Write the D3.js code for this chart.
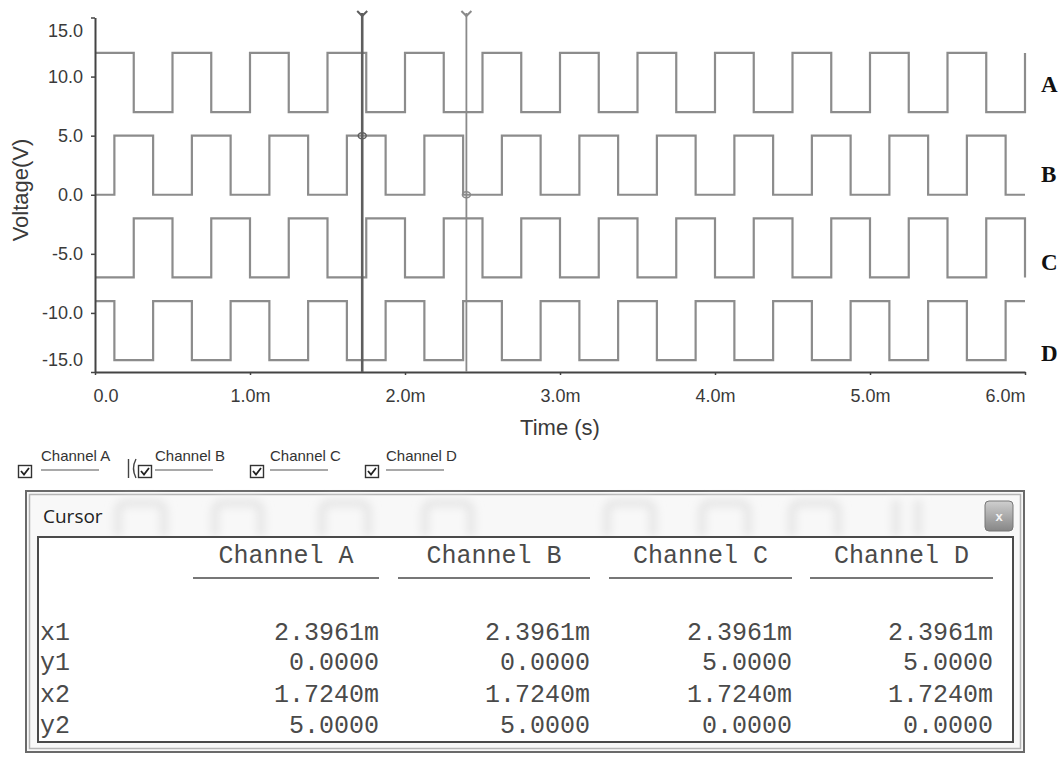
<!DOCTYPE html>
<html>
<head>
<meta charset="utf-8">
<script src="https://cdn.jsdelivr.net/npm/d3@7"></script>
<style>
  html, body { margin: 0; padding: 0; background: #fff; }
  svg { display: block; }
</style>
</head>
<body>
<script>
// ---- data ---------------------------------------------------------------
const timeTicks = [0, 1, 2, 3, 4, 5, 6];                 // ms
const timeTickLabels = ["0.0", "1.0m", "2.0m", "3.0m", "4.0m", "5.0m", "6.0m"];
const voltTicks = [15, 10, 5, 0, -5, -10, -15];
const voltTickLabels = ["15.0", "10.0", "5.0", "0.0", "-5.0", "-10.0", "-15.0"];

const channelNames = ["A", "B", "C", "D"];
// trace levels as displayed (low, high) in volts
const levelLow  = [7, 0, -7, -14];
const levelHigh = [12, 5, -2, -9];
// level at t = 0 (1 = high, 0 = low)
const startState = [1, 0, 0, 1];
// switching instants of each trace, ms
const edgesA = [0.25, 0.5, 0.75, 1.0, 1.25, 1.5, 1.75, 2.0, 2.25, 2.5, 2.75, 3.0,
                3.25, 3.5, 3.75, 4.0, 4.25, 4.5, 4.75, 5.0, 5.25, 5.5, 5.75, 6.0];
const edgesB = [0.125, 0.375, 0.625, 0.875, 1.125, 1.375, 1.625, 1.875, 2.125, 2.375,
                2.625, 2.875, 3.125, 3.375, 3.625, 3.875, 4.125, 4.375, 4.625, 4.875,
                5.125, 5.375, 5.625, 5.875];
const edgesC = [0.25, 0.5, 0.75, 1.0, 1.25, 1.5, 1.75, 2.0, 2.25, 2.5, 2.75, 3.0,
                3.25, 3.5, 3.75, 4.0, 4.25, 4.5, 4.75, 5.0, 5.25, 5.5, 5.75, 6.0];
const edgesD = [0.125, 0.375, 0.625, 0.875, 1.125, 1.375, 1.625, 1.875, 2.125, 2.375,
                2.625, 2.875, 3.125, 3.375, 3.625, 3.875, 4.125, 4.375, 4.625, 4.875,
                5.125, 5.375, 5.625, 5.875];
const channelEdges = [edgesA, edgesB, edgesC, edgesD];

// cursor readout
const tableColumns = ["Channel A", "Channel B", "Channel C", "Channel D"];
const rowNames = ["x1", "y1", "x2", "y2"];
const x1Values = [2.3961, 2.3961, 2.3961, 2.3961];
const y1Values = [0, 0, 5, 5];
const x2Values = [1.7240, 1.7240, 1.7240, 1.7240];
const y2Values = [5, 5, 0, 0];
const legendLabels = ["Channel A", "Channel B", "Channel C", "Channel D"];

// ---- layout -------------------------------------------------------------
const W = 1062, H = 757;
const svg = d3.select("body").append("svg").attr("width", W).attr("height", H);
svg.append("rect").attr("width", W).attr("height", H).attr("fill", "#fff");

const defs = svg.append("defs");
defs.append("filter").attr("id", "ghost").attr("x", "-20%").attr("y", "-50%")
  .attr("width", "140%").attr("height", "200%")
  .append("feGaussianBlur").attr("stdDeviation", 4);
const btnGrad = defs.append("linearGradient").attr("id", "btn")
  .attr("x1", 0).attr("y1", 0).attr("x2", 0).attr("y2", 1);
btnGrad.append("stop").attr("offset", 0).attr("stop-color", "#cfcfcf");
btnGrad.append("stop").attr("offset", 1).attr("stop-color", "#868686");

const x = d3.scaleLinear().domain([0, 6]).range([95, 1025]);
const y = d3.scaleLinear().domain([-15, 15]).range([372, 17.5]);

const sansFont = "'Liberation Sans', Arial, sans-serif";
const monoFont = "'Liberation Mono', 'Courier New', monospace";
const axisColor = "#444";

// ---- traces -------------------------------------------------------------
const line = d3.line()
  .x(d => x(d[0]))
  .y(d => y(d[1]))
  .curve(d3.curveStepAfter);

channelNames.forEach((name, i) => {
  const lv = [levelLow[i], levelHigh[i]];
  let s = startState[i];
  const pts = [[0, lv[s]]];
  channelEdges[i].forEach(t => { s = 1 - s; pts.push([t, lv[s]]); });
  if (pts[pts.length - 1][0] < 6) pts.push([6, lv[s]]);
  svg.append("path")
    .attr("d", line(pts))
    .attr("fill", "none")
    .attr("stroke", "#8c8c8c")
    .attr("stroke-width", 2.2);
});

// ---- axes ---------------------------------------------------------------
const xAxis = svg.append("g").attr("transform", `translate(0,${y(-15)})`)
  .call(d3.axisBottom(x).tickValues(timeTicks)
    .tickFormat((d, i) => timeTickLabels[i]).tickSize(3).tickSizeOuter(0));
xAxis.select(".domain").attr("stroke", axisColor).attr("stroke-width", 2);
xAxis.selectAll(".tick line").attr("stroke", axisColor).attr("stroke-width", 1.5);
xAxis.selectAll(".tick text")
  .attr("y", 17).attr("fill", "#3a3a3a")
  .style("font-family", sansFont).style("font-size", "18px")
  .attr("text-anchor", (d, i) => i === 0 ? "start" : (i === timeTicks.length - 1 ? "end" : "middle"))
  .attr("dx", (d, i) => i === 0 ? -2 : 0);

const yAxis = svg.append("g").attr("transform", `translate(${x(0)},0)`)
  .call(d3.axisLeft(y).tickValues(voltTicks)
    .tickFormat((d, i) => voltTickLabels[i]).tickSize(4).tickSizeOuter(0));
yAxis.select(".domain").attr("stroke", axisColor).attr("stroke-width", 2);
yAxis.selectAll(".tick line").attr("stroke", axisColor).attr("stroke-width", 1.5);
yAxis.selectAll(".tick text")
  .attr("x", -12).attr("fill", "#3a3a3a")
  .style("font-family", sansFont).style("font-size", "18px")
  .attr("transform", (d, i) => i === 0 ? "translate(0,13)" : (i === voltTicks.length - 1 ? "translate(0,-12)" : null));

svg.append("text")
  .attr("transform", `translate(28,${190}) rotate(-90)`)
  .attr("text-anchor", "middle")
  .attr("fill", "#3a3a3a")
  .style("font-family", sansFont).style("font-size", "22px")
  .text("Voltage(V)");

svg.append("text")
  .attr("x", 560).attr("y", 435)
  .attr("text-anchor", "middle")
  .attr("fill", "#3a3a3a")
  .style("font-family", sansFont).style("font-size", "22px")
  .text("Time (s)");

// channel names at the right end of each trace
const sideLabelY = [92, 182, 270, 361];
channelNames.forEach((name, i) => {
  svg.append("text")
    .attr("x", 1041).attr("y", sideLabelY[i])
    .attr("fill", "#111")
    .style("font-family", "'Liberation Serif', 'Times New Roman', serif")
    .style("font-size", "23px").style("font-weight", "bold")
    .text(name);
});

// ---- cursors ------------------------------------------------------------
const cursors = [
  { t: x2Values[0], v: levelLow[1] + y2Values[1], color: "#5e5e5e", width: 2.6 },
  { t: x1Values[0], v: levelLow[1] + y1Values[1], color: "#8a8a8a", width: 1.8 }
];
cursors.forEach(c => {
  const cx = x(c.t);
  const g = svg.append("g");
  g.append("line")
    .attr("x1", cx).attr("x2", cx).attr("y1", 13).attr("y2", y(-15))
    .attr("stroke", c.color).attr("stroke-width", c.width);
  g.append("path")
    .attr("d", `M${cx - 5},11 L${cx},16 L${cx + 5},11`)
    .attr("fill", "none").attr("stroke", c.color).attr("stroke-width", 2);
  g.append("ellipse")
    .attr("cx", cx).attr("cy", y(c.v)).attr("rx", 4).attr("ry", 3)
    .attr("fill", "none").attr("stroke", c.color).attr("stroke-width", 1.5);
});

// ---- channel legend -----------------------------------------------------
const legendBoxX = [18, 138, 250, 365];
const legendTextX = [41, 155, 270, 386];
legendLabels.forEach((lab, i) => {
  const bx = legendBoxX[i], by = 465;
  svg.append("rect").attr("x", bx + 0.5).attr("y", by + 0.5).attr("width", 13).attr("height", 12)
    .attr("fill", "#fff").attr("stroke", "#333").attr("stroke-width", 1.4);
  svg.append("path")
    .attr("d", `M${bx + 3},${by + 6} L${bx + 6},${by + 9.5} L${bx + 11},${by + 3}`)
    .attr("fill", "none").attr("stroke", "#222").attr("stroke-width", 1.8);
  svg.append("text")
    .attr("x", legendTextX[i]).attr("y", 461)
    .attr("fill", "#333")
    .style("font-family", sansFont).style("font-size", "15px")
    .text(lab);
  svg.append("line")
    .attr("x1", legendTextX[i]).attr("x2", legendTextX[i] + 58)
    .attr("y1", 470).attr("y2", 470)
    .attr("stroke", "#555").attr("stroke-width", 1.2);
});
svg.append("path")
  .attr("d", "M128.5,459 L128.5,478 M136,459 Q131,468.5 136,478")
  .attr("fill", "none").attr("stroke", "#444").attr("stroke-width", 1.4);

// ---- cursor window ------------------------------------------------------
const win = svg.append("g");
win.append("rect").attr("x", 26).attr("y", 491).attr("width", 998).attr("height", 261)
  .attr("fill", "#f8f8f8").attr("stroke", "#6a6a6a").attr("stroke-width", 2);
win.append("rect").attr("x", 29.5).attr("y", 494.5).attr("width", 991).attr("height", 254)
  .attr("fill", "none").attr("stroke", "#b5b5b5").attr("stroke-width", 1.5);

// faint view of the plot behind the glass title bar
const ghostX = [118, 215, 322, 425, 607, 702, 792];
const ghost = win.append("g").attr("filter", "url(#ghost)");
ghostX.forEach(gx => {
  ghost.append("path")
    .attr("d", `M${gx},536 L${gx},512 Q${gx},503 ${gx + 10},503 L${gx + 36},503 Q${gx + 46},503 ${gx + 46},512 L${gx + 46},536`)
    .attr("fill", "none").attr("stroke", "#e6e6e6").attr("stroke-width", 8);
});
ghost.append("path")
  .attr("d", "M896,536 L896,500 M918,536 L918,500")
  .attr("fill", "none").attr("stroke", "#e6e6e6").attr("stroke-width", 8);

win.append("text")
  .attr("x", 43).attr("y", 523)
  .attr("fill", "#222")
  .style("font-family", "'Open Sans', 'Noto Sans', sans-serif").style("font-size", "19px")
  .text("Cursor");

// close button
win.append("rect").attr("x", 985).attr("y", 501).attr("width", 28).attr("height", 30).attr("rx", 4)
  .attr("fill", "url(#btn)").attr("stroke", "#777").attr("stroke-width", 1);
win.append("text")
  .attr("x", 999).attr("y", 521).attr("text-anchor", "middle")
  .attr("fill", "#f4f4f4")
  .style("font-family", sansFont).style("font-size", "13px").style("font-weight", "bold")
  .text("x");

// readout table
win.append("rect").attr("x", 38).attr("y", 537).attr("width", 975).attr("height", 205)
  .attr("fill", "#fff").attr("stroke", "#4a4a4a").attr("stroke-width", 2);

const colLeft = [193, 398, 609, 810];
const colRight = [379, 590, 792, 993];
const rowBaseline = [640, 670, 702, 733];
const fmt4 = d3.format(".4f");
const tableRows = [
  x1Values.map(v => fmt4(v) + "m"),
  y1Values.map(v => fmt4(v)),
  x2Values.map(v => fmt4(v) + "m"),
  y2Values.map(v => fmt4(v))
];
const tableInk = "#4a4a4a";

tableColumns.forEach((col, j) => {
  win.append("text")
    .attr("x", (colLeft[j] + colRight[j]) / 2).attr("y", 563)
    .attr("text-anchor", "middle").attr("fill", tableInk)
    .style("font-family", monoFont).style("font-size", "25px")
    .text(col);
  win.append("line")
    .attr("x1", colLeft[j]).attr("x2", colRight[j]).attr("y1", 578).attr("y2", 578)
    .attr("stroke", "#777").attr("stroke-width", 2);
});

rowNames.forEach((r, i) => {
  win.append("text")
    .attr("x", 40).attr("y", rowBaseline[i]).attr("fill", tableInk)
    .style("font-family", monoFont).style("font-size", "25px")
    .text(r);
  tableRows[i].forEach((val, j) => {
    win.append("text")
      .attr("x", colRight[j]).attr("y", rowBaseline[i])
      .attr("text-anchor", "end").attr("fill", tableInk)
      .style("font-family", monoFont).style("font-size", "25px")
      .text(val);
  });
});
</script>
</body>
</html>
